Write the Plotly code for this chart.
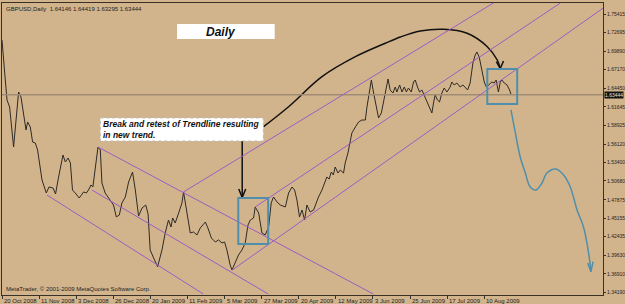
import plotly.graph_objects as go

# ---------------- data ----------------
bars = [0, 0.69, 1.42, 2.16, 3.28, 5.0, 5.74, 7.16, 8.19, 9.31, 10.35, 11.04, 12.2, 13.2, 14.36, 15.35,
        16.21, 17.25, 19.1, 20.27, 22.0, 23.1, 24.4, 26.3, 27.3, 28.5, 29.5, 30.4, 31.6, 33.3, 35.2, 36.4,
        37.3, 38.4, 39.2, 40.2, 41.4, 42.4, 43.1, 44.5, 46.7, 48.1, 49.3, 50.6, 51.7, 53.2, 54.6, 55.3,
        56.3, 57.5, 58.9, 60.4, 62.0, 63.0, 63.9, 65.4, 67.1, 69.0, 70.4, 71.8, 72.9, 73.6, 74.7, 76.2,
        77.6, 78.3, 79.8, 80.5, 81.2, 82.6, 84.1, 85.5, 87.7, 88.8, 90.3, 92.0, 93.4, 94.9, 96.0, 97.0,
        98.4, 99.2, 100.6, 102.0, 103.5, 104.9, 106.1, 107.1, 108.5, 109.2, 110.7, 112.1, 113.5, 115.0,
        116.1, 117.1, 118.6, 120.0, 122.2, 123.6, 125.1, 126.2, 127.2, 128.3, 129.4, 130.5, 131.5, 132.9,
        134.4, 135.5, 136.5, 138.0, 139.1, 140.1, 141.1, 142.0, 142.9, 143.7, 144.9, 145.9, 147.3, 148.0,
        149.2, 150.2, 150.9, 152.4, 153.8, 155.2, 156.7, 157.4, 158.4, 159.3, 160.2, 161.3, 162.4, 163.6,
        164.6, 165.7, 166.5, 167.4, 168.6, 169.6, 170.3, 171.5, 172.5, 173.5, 174.4, 175.3, 176.5, 177.5,
        178.2, 179.2, 180.1, 181.1, 182.1, 183.0, 183.7, 184.7, 185.4, 186.1, 186.8, 187.8, 188.7, 189.7,
        190.7, 191.9, 193.3, 194.0, 195.0, 196.2, 197.6, 198.8, 199.8, 200.8, 201.9, 203.1, 204.1, 204.8,
        205.8, 207.0, 208.0, 208.9, 209.8, 211.3, 212.3, 213.1, 214.1, 214.9, 215.6, 216.6, 217.8, 218.9,
        219.6]
closes = [1.7156, 1.6816, 1.6564, 1.6268, 1.6164, 1.5571, 1.5868, 1.6386, 1.6312, 1.6016, 1.5823, 1.5942,
          1.5868, 1.5645, 1.5631, 1.5527, 1.5334, 1.5083, 1.4890, 1.4979, 1.4964, 1.4875, 1.5127, 1.5453,
          1.5349, 1.5408, 1.5334, 1.4934, 1.4890, 1.4816, 1.4905, 1.4890, 1.4934, 1.5009, 1.4979, 1.5231,
          1.5571, 1.5527, 1.5038, 1.4890, 1.4786, 1.4712, 1.4535, 1.4564, 1.4742, 1.4831, 1.5053, 1.5127,
          1.5201, 1.4934, 1.4549, 1.4668, 1.4712, 1.4579, 1.4046, 1.3927, 1.3798, 1.4046, 1.4298, 1.4490,
          1.4386, 1.4520, 1.4446, 1.4594, 1.4742, 1.4905, 1.4594, 1.4386, 1.4298, 1.4312, 1.4268, 1.4372,
          1.4460, 1.4372, 1.4223, 1.4164, 1.4194, 1.4149, 1.4164, 1.4046, 1.3823, 1.3749, 1.3868, 1.3972,
          1.4046, 1.4149, 1.4416, 1.4490, 1.4520, 1.4683, 1.4594, 1.4298, 1.4268, 1.4386, 1.4742, 1.4831,
          1.4757, 1.4712, 1.4683, 1.4890, 1.4979, 1.4934, 1.4786, 1.4535, 1.4638, 1.4490, 1.4712, 1.4609,
          1.4638, 1.4742, 1.4831, 1.4934, 1.5053, 1.5127, 1.5097, 1.5201, 1.5157, 1.5275, 1.5186, 1.5231,
          1.5186, 1.5334, 1.5482, 1.5675, 1.5779, 1.5868, 1.5942, 1.5971, 1.5971, 1.6164, 1.6416, 1.6564,
          1.6386, 1.6164, 1.6001, 1.6075, 1.6268, 1.6460, 1.6579, 1.6416, 1.6371, 1.6460, 1.6386, 1.6490,
          1.6386, 1.6460, 1.6386, 1.6445, 1.6386, 1.6534, 1.6564, 1.6460, 1.6386, 1.6416, 1.6342, 1.6268,
          1.6223, 1.6149, 1.6075, 1.6223, 1.6342, 1.6268, 1.6238, 1.6371, 1.6445, 1.6386, 1.6460, 1.6534,
          1.6490, 1.6519, 1.6460, 1.6490, 1.6445, 1.6416, 1.6519, 1.6816, 1.6934, 1.6979, 1.6905, 1.6712,
          1.6534, 1.6460, 1.6490, 1.6534, 1.6519, 1.6564, 1.6386, 1.6534, 1.6564, 1.6519, 1.6490, 1.6416,
          1.6344]

last_price = 1.63444
title_text = "GBPUSD,Daily  1.64146 1.64419 1.63295 1.63444"

price_ticks = [1.75415, 1.72695, 1.69890, 1.67170, 1.64450, 1.61645, 1.58925, 1.56120, 1.53400,
               1.50680, 1.47875, 1.45155, 1.42435, 1.39630, 1.36910, 1.34190]
date_tick_bars = [0, 16, 32, 48, 64, 80, 96, 112, 128, 144, 160, 176, 192, 208]
date_tick_labels = ["20 Oct 2008", "11 Nov 2008", "3 Dec 2008", "26 Dec 2008", "20 Jan 2009",
                    "11 Feb 2009", "5 Mar 2009", "27 Mar 2009", "20 Apr 2009", "12 May 2009",
                    "3 Jun 2009", "25 Jun 2009", "17 Jul 2009", "10 Aug 2009"]

# trendlines: (bar, price) anchors
trendlines = [
    [(41.4, 1.5571), (160.1, 1.3394)],
    [(38.8, 1.4934), (114.8, 1.3394)],
    [(19.4, 1.4860), (86.8, 1.3394)],
    [(78.3, 1.4905), (211.9, 1.7704)],
    [(109.2, 1.4683), (240.8, 1.7704)],
    [(99.3, 1.3749), (259.3, 1.7630)],
]
boxes = [[(101.9, 1.4816), (114.8, 1.4135)], [(209.3, 1.6727), (222.2, 1.6208)]]

fc_bars = [219.5, 221.4, 223.5, 225.7, 227.8, 230.3, 232.9, 235.0, 238.9, 242.2, 245.1, 248.0, 250.8, 253.0, 254.0]
fc_prices = [1.6120, 1.5779, 1.5423, 1.5186, 1.4979, 1.4934, 1.5038, 1.5186, 1.5245, 1.5157, 1.4979,
             1.4638, 1.4386, 1.4001, 1.3724]
fc_head_bars = [252.6, 254.0, 254.9]
fc_head_prices = [1.3853, 1.3724, 1.3872]

arc_bars = [112.8, 123.6, 138.0, 152.4, 165.3, 171.8, 180.4, 190.4, 200.6, 209.3, 213.6, 214.9]
arc_prices = [1.5872, 1.6168, 1.6613, 1.6909, 1.7108, 1.7201, 1.7290, 1.7315, 1.7256, 1.7057, 1.6860, 1.6737]
arc_head_bars = [213.2, 214.9, 216.3]
arc_head_prices = [1.6835, 1.6734, 1.6845]

vert_bars = [103.6, 103.6]
vert_prices = [1.5779, 1.4831]
vert_head_bars = [102.1, 103.6, 105.1]
vert_head_prices = [1.4949, 1.4823, 1.4949]

# ---------------- figure ----------------
BG = "#d2b48c"
PURPLE = "#9d5cc4"
BLUE = "#4f8fac"
FONT = "Liberation Sans"

fig = go.Figure()

fig.add_hline(y=last_price, line=dict(color="#a08c74", width=1.5))

for (p0, p1) in trendlines:
    fig.add_shape(type="line", x0=p0[0], y0=p0[1], x1=p1[0], y1=p1[1],
                  line=dict(color=PURPLE, width=1))

fig.add_trace(go.Scatter(x=bars, y=closes, mode="lines",
                         line=dict(color="#2e2a25", width=1), hoverinfo="skip"))

for (p0, p1) in boxes:
    fig.add_shape(type="rect", x0=p0[0], y0=p0[1], x1=p1[0], y1=p1[1],
                  line=dict(color=BLUE, width=2), fillcolor="rgba(0,0,0,0)")

fig.add_trace(go.Scatter(x=fc_bars, y=fc_prices, mode="lines",
                         line=dict(color=BLUE, width=1.5, shape="spline"), hoverinfo="skip"))
fig.add_trace(go.Scatter(x=fc_head_bars, y=fc_head_prices, mode="lines",
                         line=dict(color=BLUE, width=1.5), hoverinfo="skip"))

fig.add_trace(go.Scatter(x=arc_bars, y=arc_prices, mode="lines",
                         line=dict(color="#111111", width=1.5, shape="spline"), hoverinfo="skip"))
fig.add_trace(go.Scatter(x=arc_head_bars, y=arc_head_prices, mode="lines",
                         line=dict(color="#111111", width=1.5), hoverinfo="skip"))
fig.add_trace(go.Scatter(x=vert_bars, y=vert_prices, mode="lines",
                         line=dict(color="#111111", width=1.5), hoverinfo="skip"))
fig.add_trace(go.Scatter(x=vert_head_bars, y=vert_head_prices, mode="lines",
                         line=dict(color="#111111", width=1.5), hoverinfo="skip"))

# text boxes
fig.add_shape(type="rect", x0=42.4, y0=1.6001, x1=112.7, y1=1.5660,
              fillcolor="white", line=dict(color="#bbbbbb", width=1, dash="dot"))
fig.add_annotation(x=42.9, y=(1.6001 + 1.5660) / 2, xref="x", yref="y",
                   text="Break and retest of Trendline resulting<br>in new trend.",
                   showarrow=False, xanchor="left", yanchor="middle", align="left",
                   font=dict(family=FONT, size=8.5, color="#111111", weight="bold", style="italic"))

fig.add_shape(type="rect", x0=75.5, y0=1.7393, x1=117.6, y1=1.7171,
              fillcolor="white", line=dict(width=0))
fig.add_annotation(x=87.2, y=1.7282, xref="x", yref="y", text="Daily", showarrow=False,
                   xanchor="left", yanchor="middle",
                   font=dict(family=FONT, size=12, color="#111111", weight="bold", style="italic"))

# header / footer
fig.add_annotation(x=0, y=1, xref="paper", yref="paper", text=title_text, showarrow=False,
                   xanchor="left", yanchor="top", xshift=2, yshift=-1,
                   font=dict(family=FONT, size=6, color="#222222"))
fig.add_annotation(x=0, y=0, xref="paper", yref="paper",
                   text="MetaTrader, \u00a9 2001-2009 MetaQuotes Software Corp.", showarrow=False,
                   xanchor="left", yanchor="bottom", xshift=2, yshift=1,
                   font=dict(family=FONT, size=6, color="#222222"))

# date labels (left-aligned at ticks, MetaTrader style)
for b, lab in zip(date_tick_bars, date_tick_labels):
    fig.add_annotation(x=b, y=0, xref="x", yref="paper", text=lab, showarrow=False,
                       xanchor="left", yanchor="top", xshift=0, yshift=-1,
                       font=dict(family=FONT, size=6, color="#222222"))

# current price marker
fig.add_annotation(x=1, y=last_price, xref="paper", yref="y", text="1.63444", showarrow=False,
                   xanchor="left", yanchor="middle", xshift=1, bgcolor="#111111", borderpad=0,
                   font=dict(family=FONT, size=5, color="#e8e0d0"))

fig.update_layout(
    width=625, height=304,
    margin=dict(l=2, r=22, t=3, b=9),
    paper_bgcolor=BG, plot_bgcolor=BG,
    showlegend=False,
    xaxis=dict(range=[0, 259.2], tickvals=date_tick_bars, ticktext=[""] * len(date_tick_bars),
               ticks="outside", ticklen=3, tickcolor="#333333", showgrid=False, zeroline=False,
               showline=True, linecolor="#3a3026", linewidth=1, mirror=True, fixedrange=True),
    yaxis=dict(range=[1.33790, 1.77044], side="right", tickvals=price_ticks,
               ticktext=[f"{v:.5f}" for v in price_ticks],
               ticks="outside", ticklen=2, tickcolor="#333333", showgrid=False, zeroline=False,
               showline=True, linecolor="#3a3026", linewidth=1, mirror=True, automargin=False,
               ticklabelstandoff=0,
               tickfont=dict(family=FONT, size=5, color="#222222"), fixedrange=True),
)

fig.write_html("out.html")
